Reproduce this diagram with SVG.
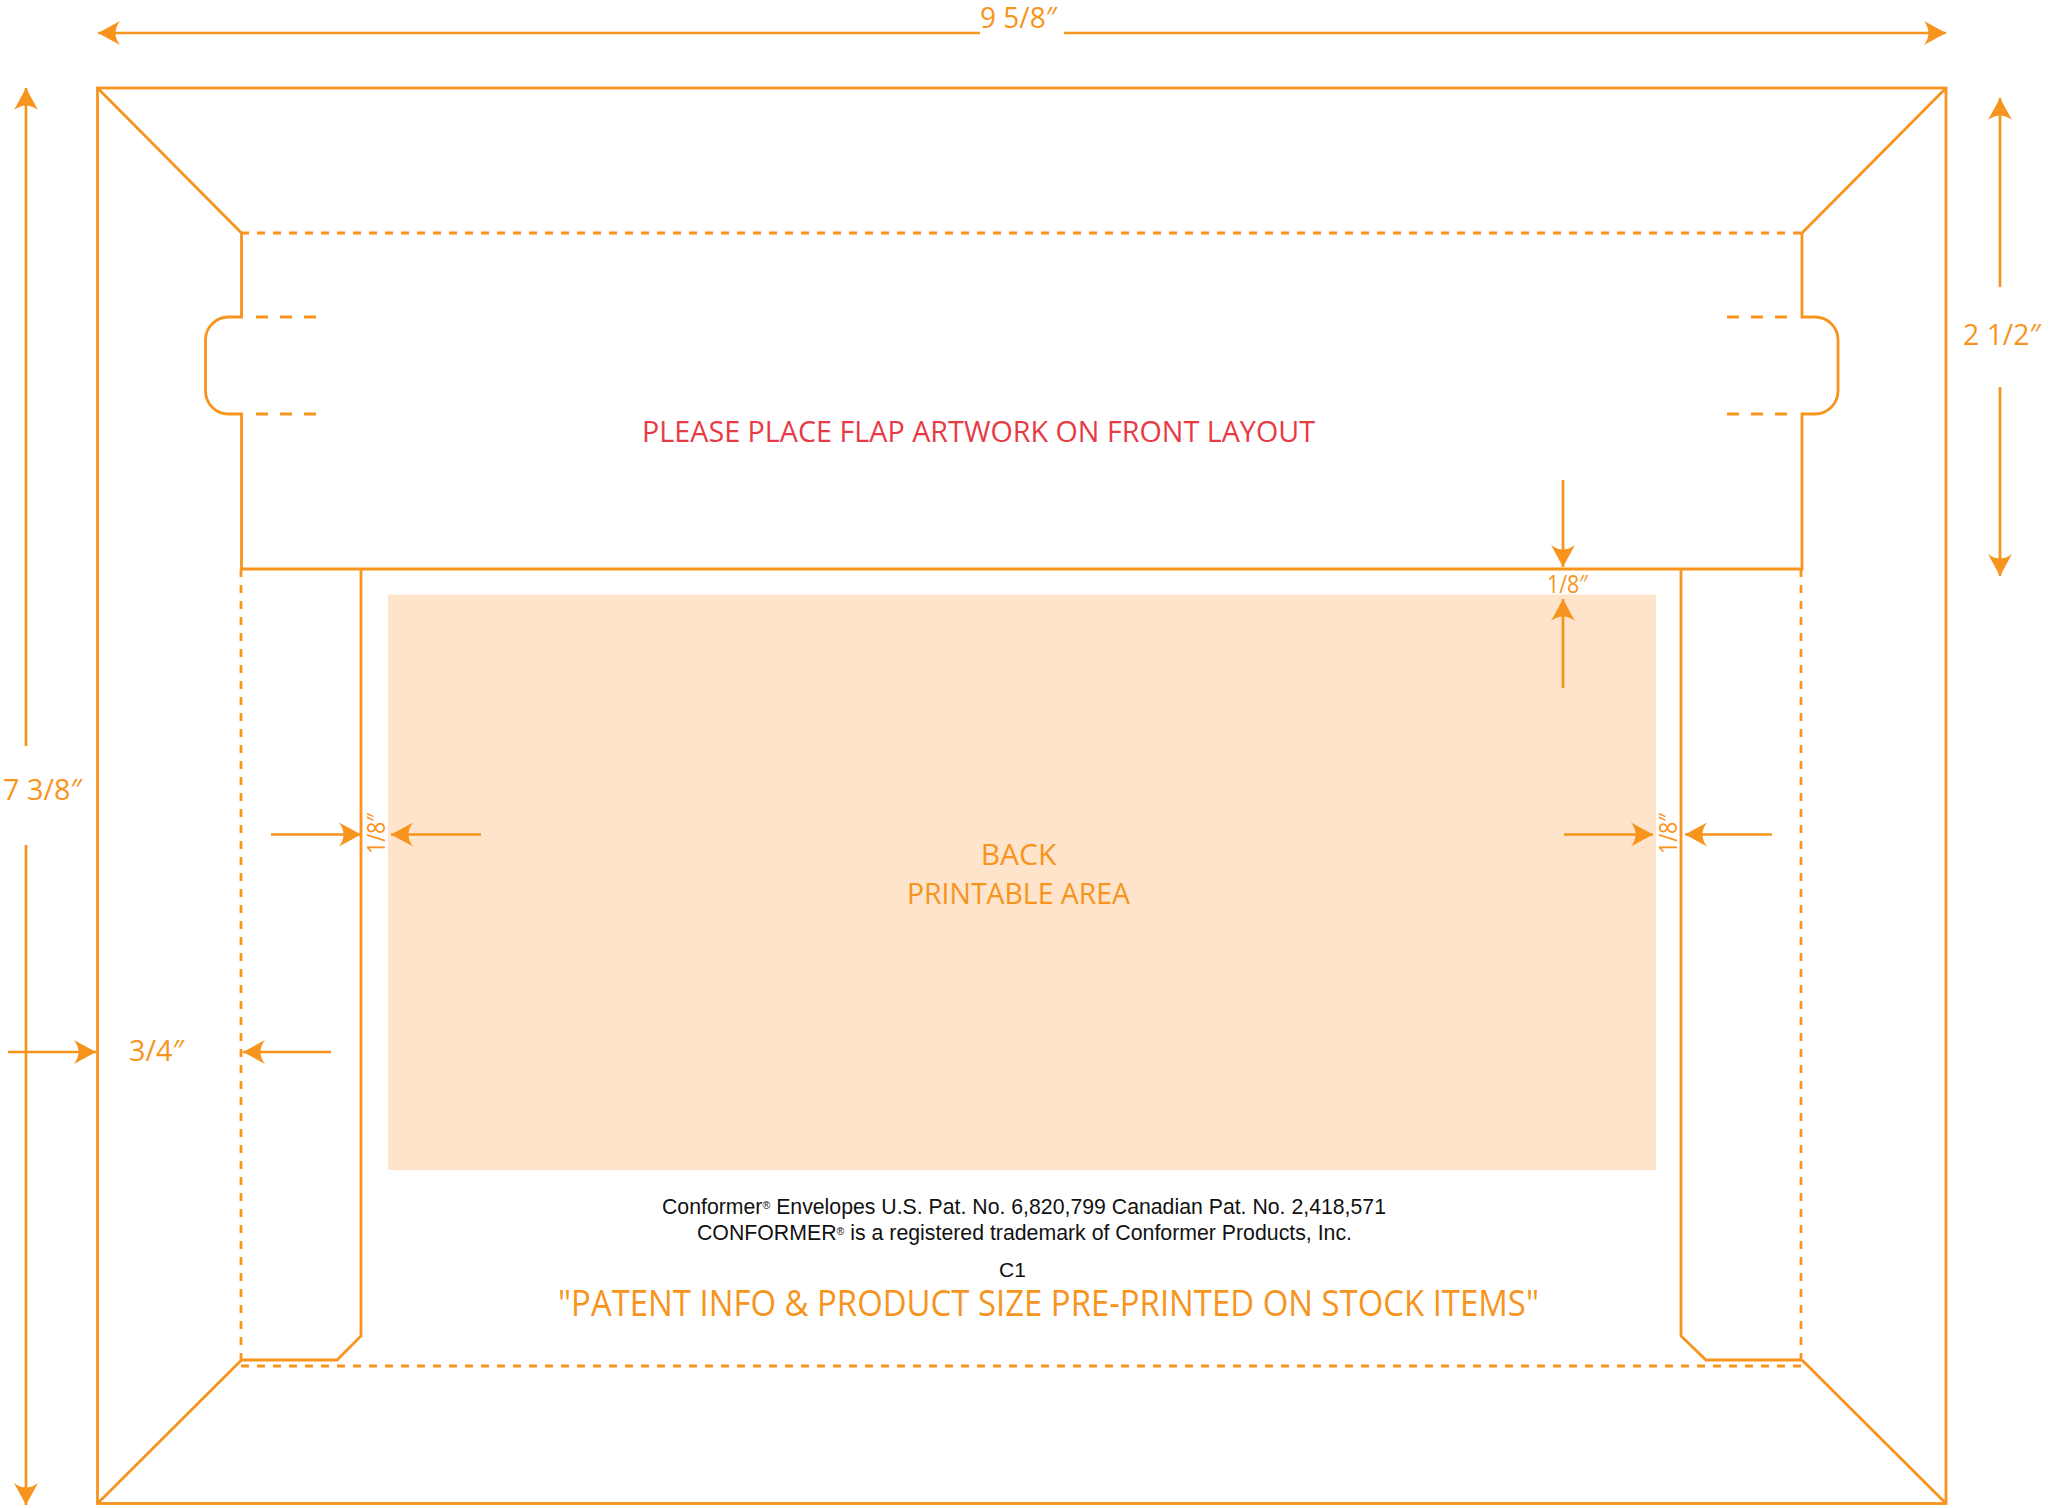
<svg xmlns="http://www.w3.org/2000/svg" width="2052" height="1508" viewBox="0 0 2052 1508">
<style>
.s{fill:none;stroke:#f7941d;stroke-width:2.8}
.d{stroke-dasharray:8 8}
.t{stroke-dasharray:12 12}
.a{fill:none;stroke:#f7941d;stroke-width:2.7;marker-end:url(#h)}
.o{font-family:"Open Sans","Noto Sans",sans-serif;fill:#f7941d}
.b{font-family:"Liberation Sans",Arial,sans-serif;fill:#111}
</style>
<defs><marker id="h" markerUnits="userSpaceOnUse" markerWidth="23" markerHeight="25" viewBox="0 0 23 25" refX="22" refY="12.5" orient="auto"><path d="M0,.5 L22,12.5 L0,24.5 Q9,12.5 0,.5Z" fill="#f7941d"/></marker></defs>
<rect width="2052" height="1508" fill="#fff"/>
<g id="printable-area"><rect x="388" y="594.5" width="1268" height="575.5" fill="#fde4ca"/></g>
<g id="envelope">
<rect class="s" x="97.5" y="88" width="1848.5" height="1415.5"/>
<path class="s" d="M97.5,88 L241.5,233 M1946,88 L1802,233 M97.5,1503.5 L241.5,1360 M1946,1503.5 L1802,1360"/>
</g>
<g id="flap">
<path class="s" d="M241.5,233 V317 H229 A23,23 0 0 0 205.5,340 V391 A23,23 0 0 0 229,414 H241.5 V569 H1802 V414 H1815 A23,23 0 0 0 1838,391 V340 A23,23 0 0 0 1815,317 H1802 V233"/>
<path class="s d" d="M241,233 H1802"/>
<path class="s t" d="M256,317 H316 M256,414 H316 M1787,317 H1727 M1787,414 H1727"/>
</g>
<g id="side-flaps">
<path class="s" d="M361,569 V1336 L337,1360 H241"/>
<path class="s" d="M1681,569 V1336 L1706,1360 H1802"/>
<path class="s d" d="M241,569 V1360 M1801,569 V1360 M241,1366 H1803"/>
</g>
<g id="connectors">
<path class="a" d="M980,33 H98"/>
<path class="a" d="M1064,33 H1946"/>
<path class="a" d="M26,746 V88"/>
<path class="a" d="M26,845 V1505"/>
<path class="a" d="M2000,287 V98"/>
<path class="a" d="M2000,387 V576"/>
<path class="a" d="M1563,480 V567"/>
<path class="a" d="M1563,688 V599"/>
<path class="a" d="M271,834.5 H361"/>
<path class="a" d="M481,834.5 H391"/>
<path class="a" d="M1564,834.5 H1653"/>
<path class="a" d="M1772,834.5 H1685"/>
<path class="a" d="M8,1052 H96"/>
<path class="a" d="M331,1052 H243"/>
</g>
<g id="labels">
<text class="o" x="980" y="28" font-size="29" textLength="77" lengthAdjust="spacingAndGlyphs">9 5/8″</text>
<text class="o" x="3" y="800" font-size="29" textLength="79" lengthAdjust="spacingAndGlyphs">7 3/8″</text>
<text class="o" x="1963" y="345" font-size="29" textLength="78" lengthAdjust="spacingAndGlyphs">2 1/2″</text>
<text class="o" x="1547" y="592.5" font-size="25" textLength="41" lengthAdjust="spacingAndGlyphs">1/8″</text>
<text class="o" transform="translate(385,854) rotate(-90)" font-size="25" textLength="41" lengthAdjust="spacingAndGlyphs">1/8″</text>
<text class="o" transform="translate(1677,854) rotate(-90)" font-size="25" textLength="41" lengthAdjust="spacingAndGlyphs">1/8″</text>
<text class="o" x="129" y="1061" font-size="29" textLength="55" lengthAdjust="spacingAndGlyphs">3/4″</text>
<text x="642" y="441.5" font-family="Open Sans,Noto Sans,sans-serif" font-size="30" fill="#e83a45" textLength="673" lengthAdjust="spacingAndGlyphs">PLEASE PLACE FLAP ARTWORK ON FRONT LAYOUT</text>
<text class="o" x="1018.5" y="865" font-size="30" text-anchor="middle">BACK</text>
<text class="o" x="907" y="904" font-size="30" textLength="223" lengthAdjust="spacingAndGlyphs">PRINTABLE AREA</text>
<text class="b" x="662" y="1214" font-size="22" textLength="724" lengthAdjust="spacingAndGlyphs">Conformer<tspan font-size="11" dy="-5">®</tspan><tspan dy="5"> Envelopes U.S. Pat. No. 6,820,799 Canadian Pat. No. 2,418,571</tspan></text>
<text class="b" x="697" y="1240" font-size="22" textLength="655" lengthAdjust="spacingAndGlyphs">CONFORMER<tspan font-size="11" dy="-5">®</tspan><tspan dy="5"> is a registered trademark of Conformer Products, Inc.</tspan></text>
<text class="b" x="999" y="1277" font-size="21">C1</text>
<text class="o" x="558" y="1316" font-size="37" textLength="981" lengthAdjust="spacingAndGlyphs">"PATENT INFO &amp; PRODUCT SIZE PRE-PRINTED ON STOCK ITEMS"</text>
</g>
</svg>
